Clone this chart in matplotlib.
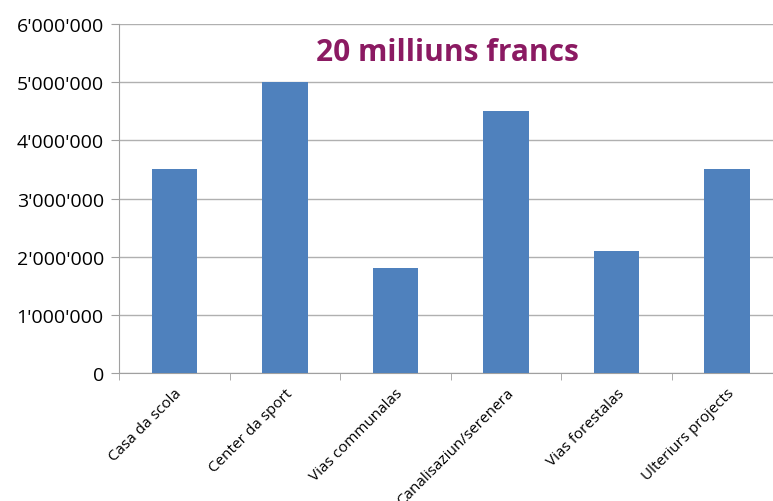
import numpy as np
import matplotlib.pyplot as plt
from matplotlib.ticker import FuncFormatter

# Project costs in francs
categories = ['Casa da scola', 'Center da sport', 'Vias communalas',
              'Canalisaziun/serenera', 'Vias forestalas', 'Ulteriurs projects']
costs = [3500000, 5000000, 1800000, 4500000, 2100000, 3500000]
yticks = [0, 1000000, 2000000, 3000000, 4000000, 5000000, 6000000]
title = '20 milliuns francs'

plt.rcParams['font.family'] = ['Open Sans', 'DejaVu Sans']

fig = plt.figure(figsize=(7.73, 5.02), dpi=100)
ax = fig.add_axes([0.154, 0.255, 0.858, 0.695])

x = np.arange(len(categories))
ax.bar(x, costs, width=0.41, color='#4F81BD', zorder=3)

ax.set_xlim(-0.5, len(categories) - 0.5)
ax.set_ylim(0, 6000000)
ax.set_yticks(yticks)
ax.yaxis.set_major_formatter(FuncFormatter(lambda v, p: f'{int(v):,}'.replace(',', "'")))
ax.grid(axis='y', color='#B0B0B0', linewidth=1, zorder=0)

ax.set_xticks(x)
ax.set_xticklabels(categories, rotation=45, ha='right', rotation_mode='anchor', fontsize=11)
ax.set_xticks(np.arange(len(categories) + 1) - 0.5, minor=True)
ax.tick_params(axis='x', which='major', length=0, pad=9)
ax.tick_params(axis='x', which='minor', length=5, color='#A0A0A0')
ax.tick_params(axis='y', length=6, color='#A0A0A0', labelsize=14, pad=5)

for s in ['top', 'right']:
    ax.spines[s].set_visible(False)
for s in ['left', 'bottom']:
    ax.spines[s].set_color('#A0A0A0')

ax.text(0.495, 0.92, title, transform=ax.transAxes, ha='center', va='center',
        fontsize=21.5, fontweight='bold', color='#8B1A62')

fig.savefig('out.png', dpi=100)
